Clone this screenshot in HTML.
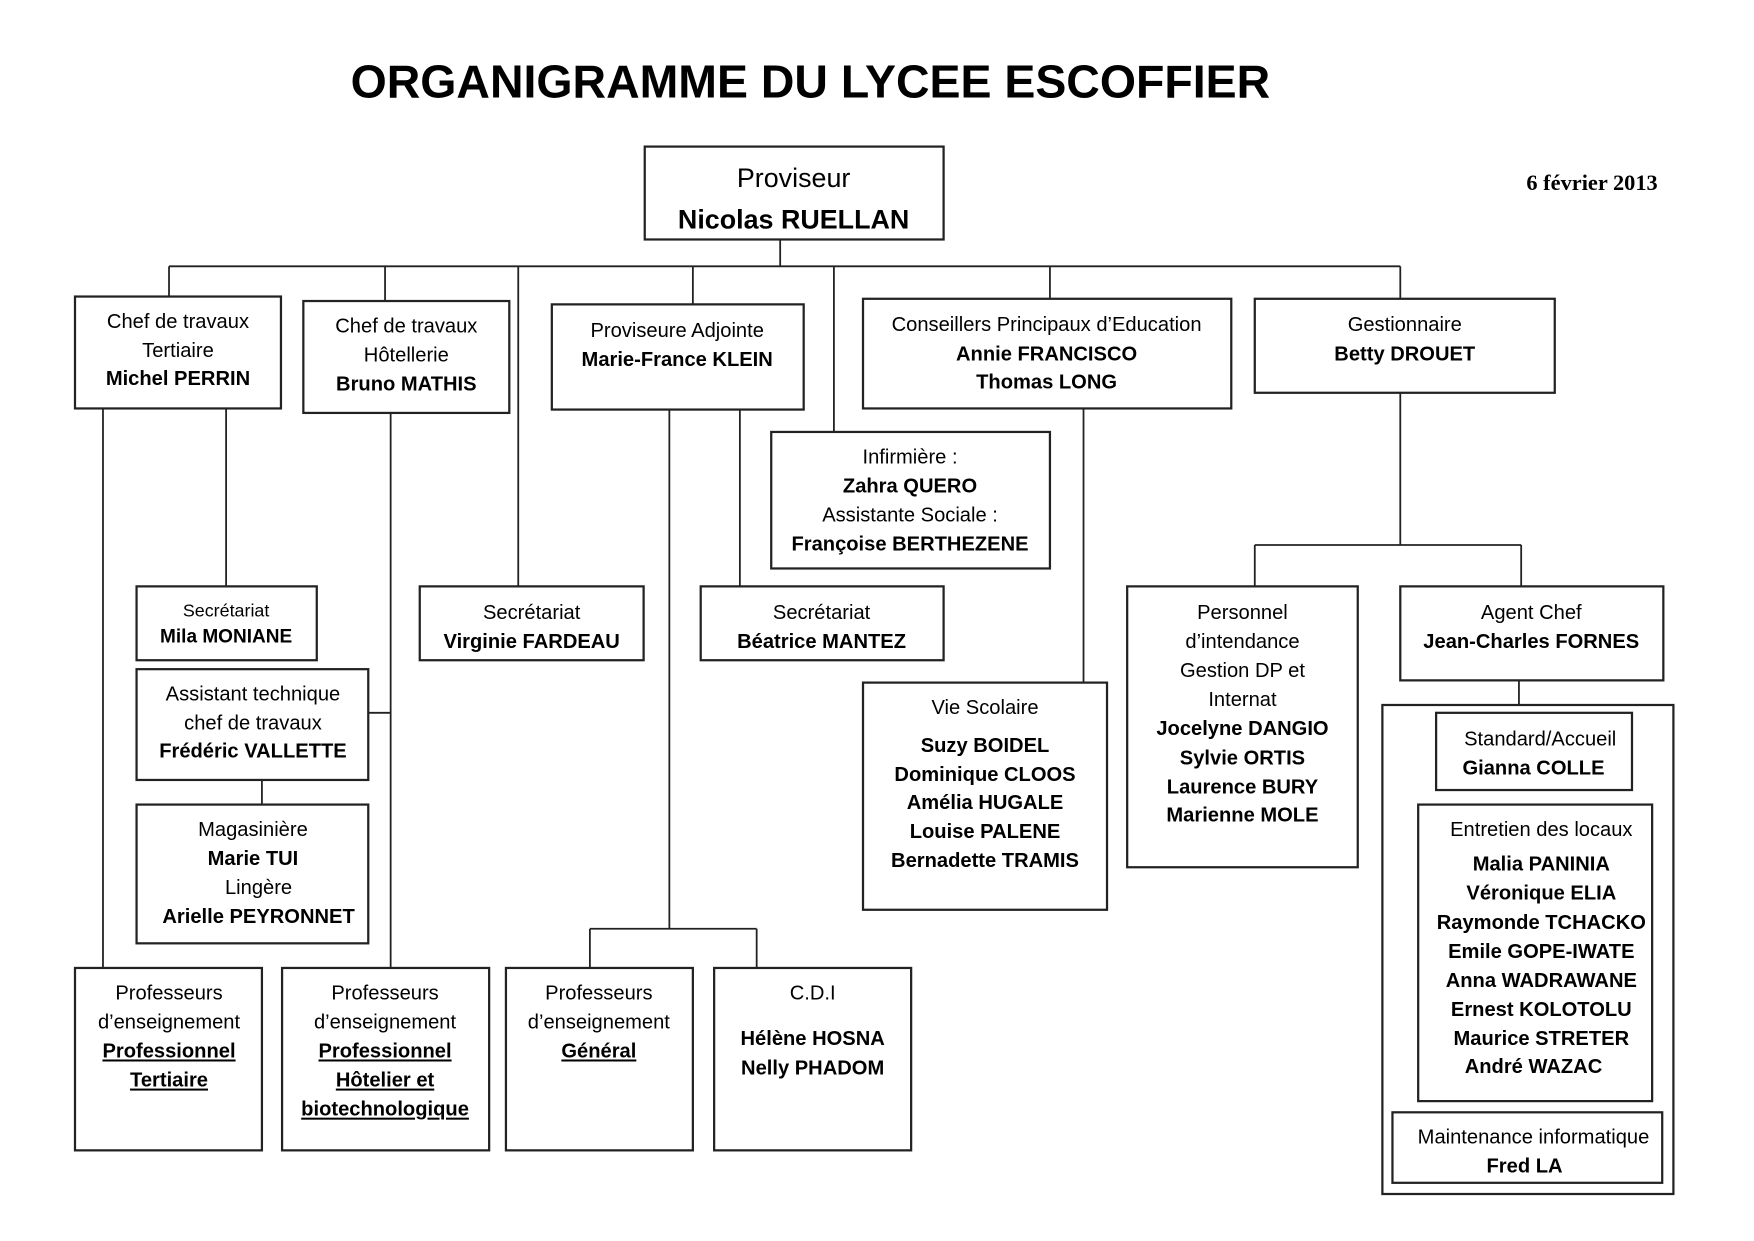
<!DOCTYPE html>
<html><head><meta charset="utf-8"><style>
html,body{margin:0;padding:0;background:#fff;}
svg{display:block;}
text{font-family:"Liberation Sans",sans-serif;fill:#000;text-anchor:middle;font-size:18px;}
.b{font-weight:bold;}
.u{text-decoration:underline;font-weight:bold;}
rect{fill:none;stroke:#222;stroke-width:2;}
line{stroke:#222;stroke-width:1.6;}
</style></head><body>
<svg width="1754" height="1241" viewBox="0 0 1567 1109" preserveAspectRatio="none">
<text x="724" y="87" class="b" style="font-size:41.5px">ORGANIGRAMME DU LYCEE ESCOFFIER</text>
<text x="1481" y="170" class="b" style="font-family:'Liberation Serif',serif;font-size:20px;text-anchor:end">6 février 2013</text>

<!-- connectors -->
<line x1="697" y1="214" x2="697" y2="238"/>
<line x1="151" y1="238" x2="1251" y2="238"/>
<line x1="151" y1="238" x2="151" y2="265"/>
<line x1="344" y1="238" x2="344" y2="269"/>
<line x1="463" y1="238" x2="463" y2="524"/>
<line x1="619" y1="238" x2="619" y2="272"/>
<line x1="745" y1="238" x2="745" y2="386"/>
<line x1="938" y1="238" x2="938" y2="267"/>
<line x1="1251" y1="238" x2="1251" y2="267"/>
<line x1="92" y1="365" x2="92" y2="865"/>
<line x1="202" y1="365" x2="202" y2="524"/>
<line x1="349" y1="369" x2="349" y2="865"/>
<line x1="329" y1="637" x2="349" y2="637"/>
<line x1="234" y1="697" x2="234" y2="719"/>
<line x1="598" y1="366" x2="598" y2="830"/>
<line x1="527" y1="830" x2="676" y2="830"/>
<line x1="527" y1="830" x2="527" y2="865"/>
<line x1="676" y1="830" x2="676" y2="865"/>
<line x1="661" y1="366" x2="661" y2="524"/>
<line x1="968" y1="365" x2="968" y2="610"/>
<line x1="1251" y1="351" x2="1251" y2="487"/>
<line x1="1121" y1="487" x2="1359" y2="487"/>
<line x1="1121" y1="487" x2="1121" y2="524"/>
<line x1="1359" y1="487" x2="1359" y2="524"/>
<line x1="1357" y1="608" x2="1357" y2="630"/>

<!-- boxes -->
<rect x="576" y="131" width="267" height="83"/>
<text x="709" y="167" style="font-size:24px">Proviseur</text>
<text x="709" y="204" class="b" style="font-size:24px">Nicolas RUELLAN</text>

<rect x="67" y="265" width="184" height="100"/>
<text x="159" y="293">Chef de travaux</text><text x="159" y="319">Tertiaire</text><text x="159" y="344" class="b">Michel PERRIN</text>

<rect x="271" y="269" width="184" height="100"/>
<text x="363" y="297">Chef de travaux</text><text x="363" y="323">Hôtellerie</text><text x="363" y="349" class="b">Bruno MATHIS</text>

<rect x="493" y="272" width="225" height="94"/>
<text x="605" y="301">Proviseure Adjointe</text><text x="605" y="327" class="b">Marie-France KLEIN</text>

<rect x="771" y="267" width="329" height="98"/>
<text x="935" y="296">Conseillers Principaux d’Education</text><text x="935" y="322" class="b">Annie FRANCISCO</text><text x="935" y="347" class="b">Thomas LONG</text>

<rect x="1121" y="267" width="268" height="84"/>
<text x="1255" y="296">Gestionnaire</text><text x="1255" y="322" class="b">Betty DROUET</text>

<rect x="689" y="386" width="249" height="122"/>
<text x="813" y="414">Infirmière :</text><text x="813" y="440" class="b">Zahra QUERO</text><text x="813" y="466">Assistante Sociale :</text><text x="813" y="492" class="b">Françoise BERTHEZENE</text>

<rect x="122" y="524" width="161" height="66"/>
<text x="202" y="551" style="font-size:16px">Secrétariat</text><text x="202" y="574" class="b" style="font-size:17px">Mila MONIANE</text>

<rect x="375" y="524" width="200" height="66"/>
<text x="475" y="553">Secrétariat</text><text x="475" y="579" class="b">Virginie FARDEAU</text>

<rect x="626" y="524" width="217" height="66"/>
<text x="734" y="553">Secrétariat</text><text x="734" y="579" class="b">Béatrice MANTEZ</text>

<rect x="1007" y="524" width="206" height="251"/>
<text x="1110" y="553">Personnel</text><text x="1110" y="579">d’intendance</text><text x="1110" y="605">Gestion DP et</text><text x="1110" y="631">Internat</text>
<text x="1110" y="657" class="b">Jocelyne DANGIO</text><text x="1110" y="683" class="b">Sylvie ORTIS</text><text x="1110" y="709" class="b">Laurence BURY</text><text x="1110" y="734" class="b">Marienne MOLE</text>

<rect x="1251" y="524" width="235" height="84"/>
<text x="1368" y="553">Agent Chef</text><text x="1368" y="579" class="b">Jean-Charles FORNES</text>

<rect x="122" y="598" width="207" height="99"/>
<text x="226" y="626">Assistant technique</text><text x="226" y="652">chef de travaux</text><text x="226" y="677" class="b">Frédéric VALLETTE</text>

<rect x="122" y="719" width="207" height="124"/>
<text x="226" y="747">Magasinière</text><text x="226" y="773" class="b">Marie TUI</text><text x="231" y="799">Lingère</text><text x="231" y="825" class="b">Arielle PEYRONNET</text>

<rect x="771" y="610" width="218" height="203"/>
<text x="880" y="638">Vie Scolaire</text>
<text x="880" y="672" class="b">Suzy  BOIDEL</text><text x="880" y="698" class="b">Dominique CLOOS</text><text x="880" y="723" class="b">Amélia HUGALE</text><text x="880" y="749" class="b">Louise PALENE</text><text x="880" y="775" class="b">Bernadette TRAMIS</text>

<rect x="1235" y="630" width="260" height="437"/>
<rect x="1283" y="637" width="175" height="69"/>
<text x="1376" y="666">Standard/Accueil</text><text x="1370" y="692" class="b">Gianna COLLE</text>

<rect x="1267" y="719" width="209" height="265"/>
<text x="1377" y="747">Entretien des locaux</text>
<text x="1377" y="778" class="b">Malia PANINIA</text><text x="1377" y="804" class="b">Véronique ELIA</text><text x="1377" y="830" class="b">Raymonde TCHACKO</text><text x="1377" y="856" class="b">Emile GOPE-IWATE</text><text x="1377" y="882" class="b">Anna WADRAWANE</text><text x="1377" y="908" class="b">Ernest KOLOTOLU</text><text x="1377" y="934" class="b">Maurice STRETER</text><text x="1370" y="959" class="b">André WAZAC</text>

<rect x="1244" y="994" width="241" height="63"/>
<text x="1370" y="1022">Maintenance informatique</text><text x="1362" y="1048" class="b">Fred LA</text>

<rect x="67" y="865" width="167" height="163"/>
<text x="151" y="893">Professeurs</text><text x="151" y="919">d’enseignement</text><text x="151" y="945" class="u">Professionnel</text><text x="151" y="971" class="u">Tertiaire</text>

<rect x="252" y="865" width="185" height="163"/>
<text x="344" y="893">Professeurs</text><text x="344" y="919">d’enseignement</text><text x="344" y="945" class="u">Professionnel</text><text x="344" y="971" class="u">Hôtelier et</text><text x="344" y="997" class="u">biotechnologique</text>

<rect x="452" y="865" width="167" height="163"/>
<text x="535" y="893">Professeurs</text><text x="535" y="919">d’enseignement</text><text x="535" y="945" class="u">Général</text>

<rect x="638" y="865" width="176" height="163"/>
<text x="726" y="893">C.D.I</text><text x="726" y="934" class="b">Hélène HOSNA</text><text x="726" y="960" class="b">Nelly PHADOM</text>
</svg>
</body></html>
